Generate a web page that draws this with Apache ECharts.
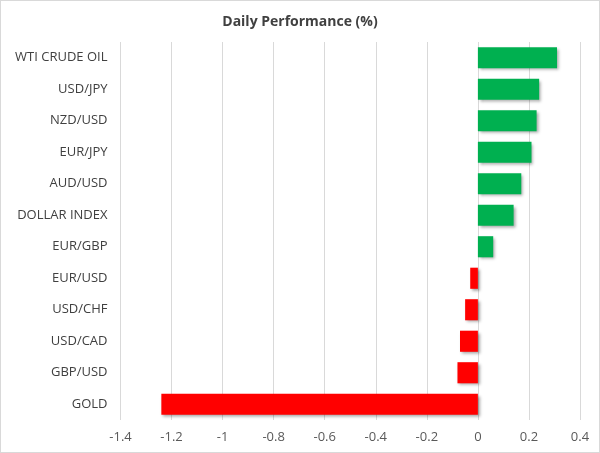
<!DOCTYPE html>
<html>
<head>
<meta charset="utf-8">
<script src="https://cdn.jsdelivr.net/npm/echarts@6/dist/echarts.min.js"></script>
<style>
html,body{margin:0;padding:0;background:#fff;}
#c{width:598px;height:451px;border:1px solid #d9d9d9;}
</style>
</head>
<body>
<div id="c"></div>
<script>
const categories = ["WTI CRUDE OIL","USD/JPY","NZD/USD","EUR/JPY","AUD/USD","DOLLAR INDEX","EUR/GBP","EUR/USD","USD/CHF","USD/CAD","GBP/USD","GOLD"];
const values = [0.31, 0.24, 0.23, 0.21, 0.17, 0.14, 0.06, -0.03, -0.05, -0.07, -0.08, -1.24];
const xMin = -1.4, xMax = 0.4, xStep = 0.2;

const chart = echarts.init(document.getElementById('c'));
const font = '"Open Sans", "Liberation Sans", sans-serif';
chart.setOption({
  animation: false,
  title: {
    text: 'Daily Performance (%)',
    left: 'center', top: 9,
    textStyle: {fontFamily: font, fontSize: 14, fontWeight: 'bold', color: '#404040'}
  },
  grid: {left: 119.5, right: 19, top: 41, bottom: 32},
  xAxis: {
    type: 'value', min: xMin, max: xMax, interval: xStep,
    axisLine: {show: false}, axisTick: {show: false},
    splitLine: {lineStyle: {color: '#d9d9d9', width: 1}},
    axisLabel: {fontFamily: font, fontSize: 13, color: '#595959', margin: 11,
      formatter: v => String(Math.round(v * 10) / 10)}
  },
  yAxis: {
    type: 'category', data: categories, inverse: true,
    axisLine: {show: false}, axisTick: {show: false},
    axisLabel: {fontFamily: font, fontSize: 13, color: '#404040', margin: 13}
  },
  series: [{
    type: 'bar',
    data: values,
    barCategoryGap: '33%',
    itemStyle: {
      color: p => p.value >= 0 ? '#00B050' : '#FF0000',
      shadowColor: 'rgba(0,0,0,0.35)', shadowBlur: 3, shadowOffsetX: 2, shadowOffsetY: 2
    }
  }]
});
</script>
</body>
</html>
